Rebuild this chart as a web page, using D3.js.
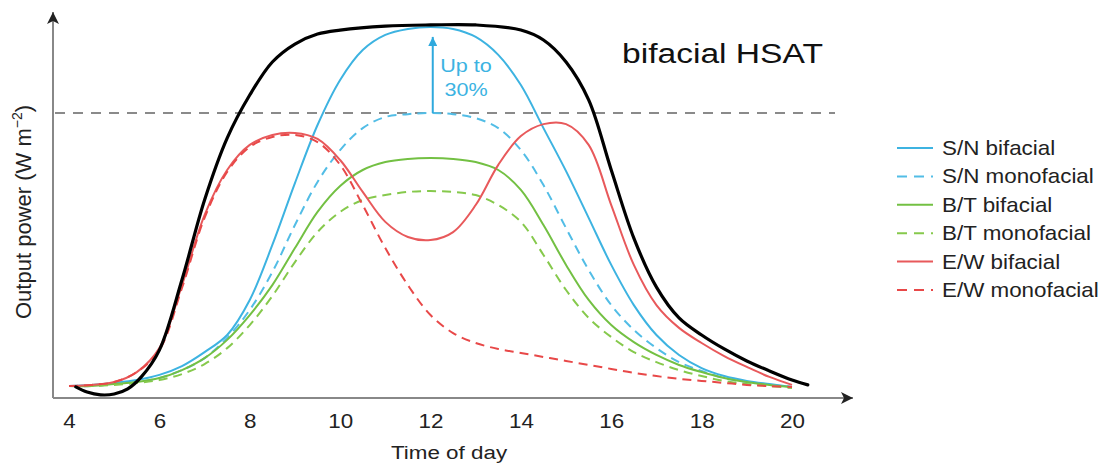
<!DOCTYPE html>
<html>
<head>
<meta charset="utf-8">
<script src="https://cdn.jsdelivr.net/npm/d3@7"></script>
<style>
  body { margin: 0; background: #fff; }
  text { font-family: "Liberation Sans", Arial, sans-serif; fill: #222; }
</style>
</head>
<body>
<svg id="chart" width="1113" height="467"></svg>
<script>

////////// Dados (potência relativa, pico S/N monofacial = 100)

const hours = [4, 4.5, 5, 5.5, 6, 6.5, 7, 7.5, 8, 8.5, 9, 9.5, 10, 10.5, 11, 11.5, 12,
  12.5, 13, 13.5, 14, 14.5, 15, 15.5, 16, 16.5, 17, 17.5, 18, 18.5, 19, 19.5, 20];

const snBifacial = [4.2, 4.6, 5.3, 6.3, 8.1, 11.2, 16.1, 22.1, 34.4, 53.7, 75.4, 95.8, 111.6, 122.1, 127.4, 129.5, 130.2,
  129.5, 126.7, 120.4, 109.8, 94.7, 79.6, 63.2, 46.7, 32.6, 22.1, 15.1, 10.5, 7.7, 6.0, 4.9, 3.9];
const snMonofacial = [4.2, 4.2, 4.9, 5.6, 7.0, 9.8, 14.0, 21.1, 30.9, 44.2, 60.7, 75.8, 87.0, 94.7, 98.6, 99.6, 100,
  99.6, 98.2, 94.7, 87.0, 74.7, 59.6, 44.9, 32.6, 23.9, 17.5, 12.6, 9.5, 7.0, 5.6, 4.6, 3.9];
const btBifacial = [4.2, 4.2, 4.9, 5.6, 7.0, 9.8, 14.0, 20.4, 29.1, 39.6, 52.6, 65.3, 74.4, 80.0, 82.8, 83.9, 84.2,
  83.9, 82.8, 80.0, 73.0, 60.7, 46.7, 34.4, 25.6, 19.6, 15.1, 11.6, 9.1, 7.0, 5.6, 4.6, 3.9];
const btMonofacial = [4.2, 4.2, 4.6, 5.3, 6.3, 8.4, 11.9, 17.5, 25.6, 35.8, 47.7, 58.2, 65.3, 69.5, 71.2, 72.3, 72.6,
  72.3, 71.2, 67.7, 61.8, 50.2, 37.9, 28.1, 21.4, 16.1, 12.6, 9.8, 7.7, 6.0, 4.9, 4.2, 3.5];
const ewBifacial = [4.2, 4.6, 5.6, 9.1, 17.5, 39.6, 64.2, 80.0, 88.8, 92.3, 93.0, 90.9, 83.5, 72.3, 61.8, 56.5, 55.4,
  58.2, 67.7, 81.8, 91.9, 96.1, 96.1, 88.8, 67.7, 46.7, 32.6, 24.6, 19.3, 14.7, 10.9, 7.4, 4.6];
const ewMonofacial = [4.2, 4.6, 5.6, 9.1, 16.8, 38.6, 63.2, 79.3, 88.1, 91.6, 92.3, 89.8, 81.8, 67.7, 52.6, 39.6, 29.1,
  22.8, 19.3, 17.2, 15.8, 14.4, 13.0, 11.6, 10.2, 8.8, 7.7, 6.7, 6.0, 5.3, 4.6, 4.2, 3.9];

// curva preta (HSAT bifacial ideal), grade própria
const hsatHours = [4.15, 4.4, 4.7, 5, 5.3, 5.6, 6, 6.5, 7, 7.5, 8, 8.5, 9, 9.5, 10, 11, 12, 13, 14, 14.5,
  15, 15.5, 16, 16.5, 17, 17.5, 18, 18.5, 19, 19.5, 20, 20.35];
const hsatValues = [3.9, 2.1, 1.1, 1.4, 3.2, 7.4, 16.8, 41.5, 69.5, 91.2, 106.3, 117.9, 124.2, 127.7, 129.1, 130.5, 130.9, 130.9, 129.1, 125.6,
  117.9, 104.6, 80.0, 56.1, 38.9, 28.1, 22.1, 17.2, 13.0, 9.5, 6.3, 4.6];

const xTicks = [4, 6, 8, 10, 12, 14, 16, 18, 20];
const reference = 100;
const arrowTop = 126.7;
const arrowHour = 12.05;

const legendLabels = ['S/N bifacial', 'S/N monofacial', 'B/T bifacial', 'B/T monofacial', 'E/W bifacial', 'E/W monofacial'];

////////// Estilos das séries

const series = [
  { name: legendLabels[0], values: snBifacial, color: '#3db3e1', dash: null },
  { name: legendLabels[1], values: snMonofacial, color: '#52bde6', dash: '9,6' },
  { name: legendLabels[2], values: btBifacial, color: '#73c043', dash: null },
  { name: legendLabels[3], values: btMonofacial, color: '#86c94c', dash: '9,6' },
  { name: legendLabels[4], values: ewBifacial, color: '#e8595b', dash: null },
  { name: legendLabels[5], values: ewMonofacial, color: '#e84848', dash: '9,6' }
];

const svg = d3.select('#chart');

let x = d3.scaleLinear()
  .domain([4, 20])
  .range([69, 792]);

let y = d3.scaleLinear()
  .domain([0, 100])
  .range([398, 113]);

const line = d3.line()
  .x(d => x(d[0]))
  .y(d => y(d[1]))
  .curve(d3.curveCatmullRom.alpha(0.5));

// setas
const defs = svg.append('defs');

defs.append('marker')
  .attr('id', 'axisHead')
  .attr('viewBox', '0 0 10 10')
  .attr('refX', 10)
  .attr('refY', 5)
  .attr('markerWidth', 13)
  .attr('markerHeight', 12)
  .attr('markerUnits', 'userSpaceOnUse')
  .attr('orient', 'auto')
  .append('path')
  .attr('d', 'M0,0 L10,5 L0,10 L2.5,5 Z')
  .attr('fill', '#222')
  ;

defs.append('marker')
  .attr('id', 'blueHead')
  .attr('viewBox', '0 0 10 10')
  .attr('refX', 10)
  .attr('refY', 5)
  .attr('markerWidth', 11)
  .attr('markerHeight', 9)
  .attr('markerUnits', 'userSpaceOnUse')
  .attr('orient', 'auto')
  .append('path')
  .attr('d', 'M0,0 L10,5 L0,10 Z')
  .attr('fill', '#2fa9dd')
  ;

////////// Eixos

svg.append('line')
  .attr('x1', 53).attr('y1', 398)
  .attr('x2', 853).attr('y2', 398)
  .attr('stroke', '#888')
  .attr('stroke-width', 2)
  .attr('marker-end', 'url(#axisHead)')
  ;

svg.append('line')
  .attr('x1', 53).attr('y1', 398)
  .attr('x2', 53).attr('y2', 12)
  .attr('stroke', '#888')
  .attr('stroke-width', 2)
  .attr('marker-end', 'url(#axisHead)')
  ;

const xAxis = svg.append('g')
  .attr('transform', 'translate(0,398)')
  .call(d3.axisBottom(x).tickValues(xTicks).tickSize(0).tickPadding(16).tickFormat(d3.format('d')));

xAxis.select('.domain').remove();
xAxis.selectAll('text')
  .attr('fill', '#222')
  .style('font-size', '20px')
  .attr('transform', 'scale(1.12,1)')
  ;

svg.append('text')
  .attr('transform', 'translate(449,459) scale(1.18,1)')
  .attr('text-anchor', 'middle')
  .style('font-size', '19px')
  .text('Time of day')
  ;

const yLabel = svg.append('text')
  .attr('transform', 'translate(31,212) rotate(-90)')
  .attr('text-anchor', 'middle')
  .style('font-size', '22px')
  ;
yLabel.append('tspan').text('Output power (W m');
yLabel.append('tspan').attr('dy', -9).style('font-size', '14px').text('\u22122');
yLabel.append('tspan').attr('dy', 9).text(')');

////////// Linha de referência e anotação

svg.append('line')
  .attr('x1', 55).attr('x2', 835)
  .attr('y1', y(reference)).attr('y2', y(reference))
  .attr('stroke', '#8a8a8a')
  .attr('stroke-width', 2)
  .attr('stroke-dasharray', '10,8')
  ;

////////// Curvas

svg.selectAll('path.serie')
  .data(series)
  .join('path')
  .attr('class', 'serie')
  .attr('d', s => line(hours.map((h, i) => [h, s.values[i]])))
  .attr('fill', 'none')
  .attr('stroke', s => s.color)
  .attr('stroke-width', 2)
  .attr('stroke-dasharray', s => s.dash)
  ;

svg.append('path')
  .attr('d', line(hsatHours.map((h, i) => [h, hsatValues[i]])))
  .attr('fill', 'none')
  .attr('stroke', '#000')
  .attr('stroke-width', 3.2)
  .attr('stroke-linecap', 'round')
  ;

svg.append('line')
  .attr('x1', x(arrowHour)).attr('x2', x(arrowHour))
  .attr('y1', y(reference)).attr('y2', y(arrowTop))
  .attr('stroke', '#2fa9dd')
  .attr('stroke-width', 2)
  .attr('marker-end', 'url(#blueHead)')
  ;

svg.append('text')
  .attr('transform', 'translate(466,72) scale(1.2,1)')
  .attr('text-anchor', 'middle')
  .style('font-size', '18px')
  .style('fill', '#3cb3e2')
  .text('Up to')
  ;

svg.append('text')
  .attr('transform', 'translate(466,96) scale(1.2,1)')
  .attr('text-anchor', 'middle')
  .style('font-size', '18px')
  .style('fill', '#3cb3e2')
  .text('30%')
  ;

svg.append('text')
  .attr('transform', 'translate(622,63) scale(1.2,1)')
  .style('font-size', '28px')
  .style('fill', '#111')
  .text('bifacial HSAT')
  ;

////////// Legenda

const legend = svg.append('g')
  .attr('transform', 'translate(897,148)');

const rows = legend.selectAll('g.row')
  .data(series)
  .join('g')
  .attr('class', 'row')
  .attr('transform', (d, i) => 'translate(0,' + (i * 28.4) + ')');

rows.append('line')
  .attr('x1', 0).attr('x2', 36)
  .attr('stroke', d => d.color)
  .attr('stroke-width', 2)
  .attr('stroke-dasharray', d => d.dash ? '10,7' : null)
  ;

rows.append('text')
  .attr('transform', 'translate(45,7) scale(1.12,1)')
  .style('font-size', '20px')
  .text(d => d.name)
  ;

</script>
</body>
</html>
